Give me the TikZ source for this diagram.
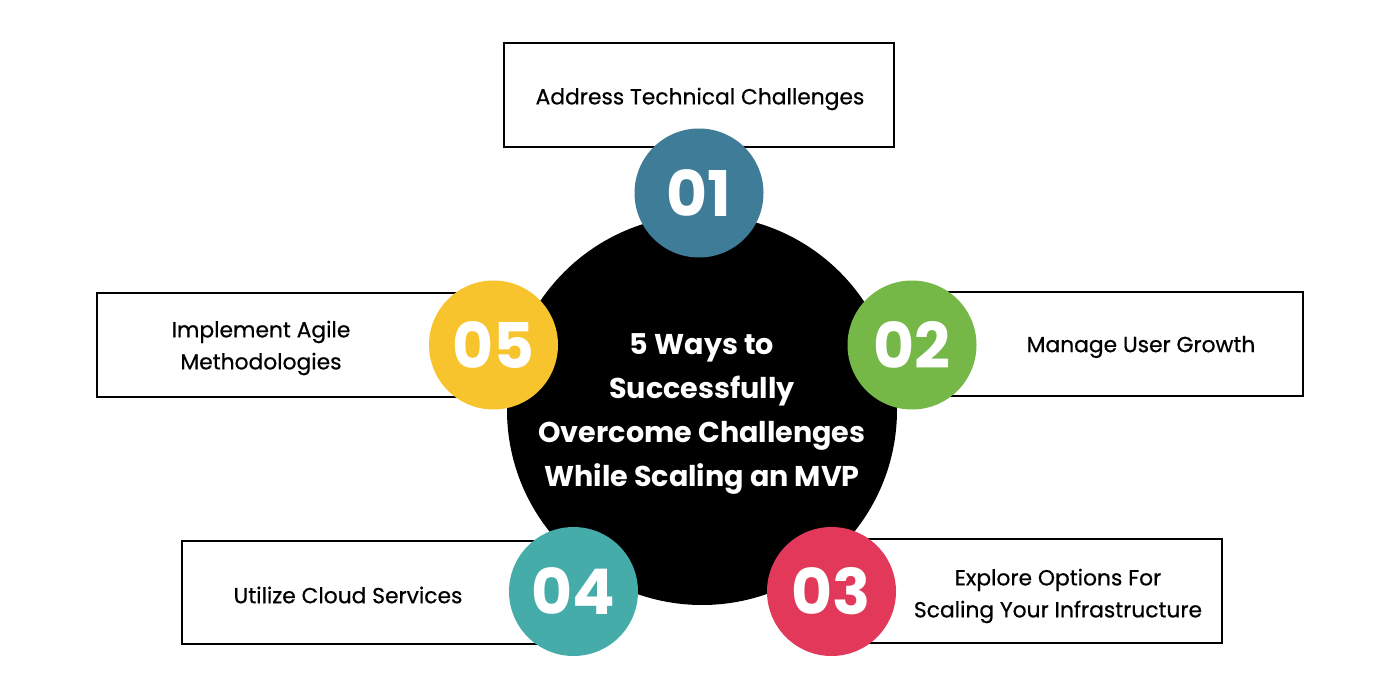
\documentclass[tikz,border=0pt]{standalone}
\usepackage{fontspec}
\setmainfont{Poppins}
\newfontfamily\itemfont[FakeBold=0.6]{Poppins}
\definecolor{cOne}{RGB}{62,124,152}
\definecolor{cTwo}{RGB}{118,184,72}
\definecolor{cThree}{RGB}{226,57,90}
\definecolor{cFour}{RGB}{70,172,170}
\definecolor{cFive}{RGB}{248,196,45}
\tikzset{
  itembox/.style={draw=black, line width=1.2pt, fill=white},
  itemtext/.style={align=center, text=black, font=\itemfont\fontsize{21.8}{32}\selectfont, inner sep=0pt},
  numcirc/.style={circle, minimum size=129pt, inner sep=0pt, text=white, font=\fontsize{63}{63}\bfseries\selectfont},
  hub/.style={circle, fill=black, minimum size=390pt, inner sep=0pt, text=white, align=center, font=\fontsize{28.6}{44}\bfseries\selectfont}
}
\begin{document}
\begin{tikzpicture}[x=1pt,y=1pt]
\useasboundingbox (0,0) rectangle (1400,-700);
\fill[white] (0,0) rectangle (1400,-700);
% boxes
\draw[itembox] (504,-43) rectangle (894,-147);
\draw[itembox] (912,-292) rectangle (1303,-396);
\draw[itembox] (832,-539) rectangle (1222,-643);
\draw[itembox] (182,-541) rectangle (573,-644);
\draw[itembox] (97,-293) rectangle (493,-397);
% texts
\node[itemtext] (t1) at (700,-99) {Address Technical Challenges};
\node[itemtext] (t2) at (1141,-347) {Manage User Growth};
\node[itemtext] (t3) at (1058,-596) {Explore Options For\\Scaling Your Infrastructure};
\node[itemtext] (t4) at (348,-595) {Utilize Cloud Services};
\node[itemtext] (t5) at (261,-348) {Implement Agile\\Methodologies};
% hub
\fill[black] (702,-410) circle (195);
\node[hub, fill=none] (hub) at (702,-414) {5 Ways to\\Successfully\\Overcome Challenges\\While Scaling an MVP};
% numbered circles
\node[numcirc, fill=cOne] (n1) at (699,-193) {01};
\node[numcirc, fill=cTwo] (n2) at (912,-345) {02};
\node[numcirc, fill=cThree] (n3) at (831.5,-591.5) {03};
\node[numcirc, fill=cFour] (n4) at (573.5,-591.5) {04};
\node[numcirc, fill=cFive] (n5) at (493.5,-345) {05};
\end{tikzpicture}
\end{document}
